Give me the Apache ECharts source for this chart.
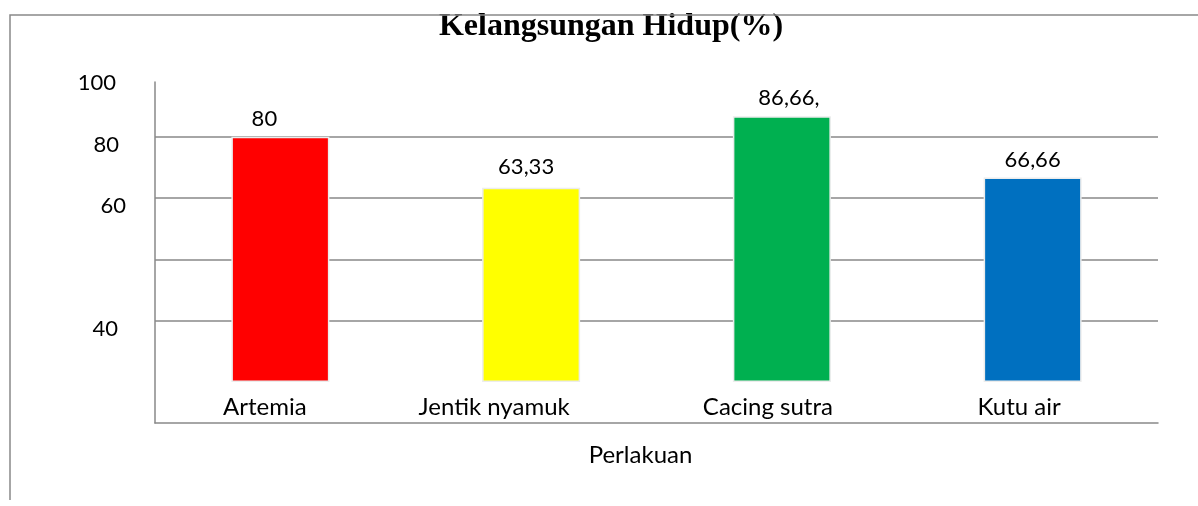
<!DOCTYPE html>
<html>
<head>
<meta charset="utf-8">
<script src="https://cdn.jsdelivr.net/npm/echarts@6/dist/echarts.min.js"></script>
<style>
html,body{margin:0;padding:0;background:#fff;}
#c{width:1198px;height:506px;}
</style>
</head>
<body>
<div id="c"></div>
<script>
// ---- data ----
const titleText = 'Kelangsungan Hidup(%)';
const xAxisName = 'Perlakuan';
const categories = ['Artemia', 'Jentik nyamuk', 'Cacing sutra', 'Kutu air'];
const values = [80, 63.33, 86.66, 66.66];
const valueLabels = ['80', '63,33', '86,66,', '66,66'];
const barColors = ['#FF0000', '#FFFF00', '#00B050', '#0070C0'];
const yTickLabels = ['', '40', '', '60', '80', '100']; // for ticks 0,20,40,60,80,100

// ---- layout / style helpers (not data) ----
const yLabelPad = { '100': 10, '80': 7, '60': 0, '40': 8 };
const catLabelPad = [31, 74, 28, 27];
const valueLabelOffsets = [[-16, 0], [-5, -3], [7, 0], [0, 0]];

const chart = echarts.init(document.getElementById('c'));
const gray = '#898989';
const sans = 'Lato';

const yRich = {};
Object.keys(yLabelPad).forEach(function (k) {
  yRich['p' + k] = { fontFamily: sans, fontSize: 22, color: '#000', padding: [0, yLabelPad[k], 0, 0] };
});
const xRich = {};
catLabelPad.forEach(function (p, i) {
  xRich['c' + i] = { fontFamily: sans, fontSize: 24, color: '#000', padding: [0, p, 0, 0] };
});

chart.setOption({
  animation: false,
  backgroundColor: '#ffffff',
  title: {
    text: titleText,
    left: 606,
    textAlign: 'center',
    top: 6,
    textStyle: { fontFamily: 'Liberation Serif', fontWeight: 'bold', fontSize: 32, color: '#000' }
  },
  graphic: [
    { type: 'polyline', z: 100, shape: { points: [[1198, 15], [10, 15], [10, 500]] },
      style: { stroke: gray, lineWidth: 1.5, fill: null } }
  ],
  grid: [
    { left: 155, right: 40, top: 75.3, bottom: 124 },
    { left: 155, right: 40, top: 82, bottom: 83 }
  ],
  xAxis: [
    {
      type: 'category', gridIndex: 0, data: categories,
      axisLine: { show: false }, axisTick: { show: false },
      axisLabel: {
        margin: 13, fontFamily: sans, fontSize: 24, color: '#000', interval: 0,
        formatter: function (v) { return '{c' + categories.indexOf(v) + '|' + v + '}'; },
        rich: xRich
      }
    },
    {
      type: 'category', gridIndex: 1, data: categories,
      axisLine: { show: true, lineStyle: { color: gray, width: 1.5 } },
      axisTick: { show: false }, axisLabel: { show: false },
      name: xAxisName, nameLocation: 'middle', nameGap: 20,
      nameTextStyle: { fontFamily: sans, fontSize: 24, color: '#000', padding: [0, 32, 0, 0], verticalAlign: 'top' }
    }
  ],
  yAxis: [
    {
      type: 'value', gridIndex: 0, min: 0, max: 100, interval: 20,
      axisLine: { show: false }, axisTick: { show: false },
      splitLine: { show: true, showMinLine: false, showMaxLine: false, lineStyle: { color: gray, width: 1.5 } },
      axisLabel: {
        margin: 29, padding: [16, 0, 0, 0],
        fontFamily: sans, fontSize: 22, color: '#000',
        formatter: function (v) {
          const t = yTickLabels[Math.round(v / 20)];
          return t ? '{p' + t + '|' + t + '}' : '';
        },
        rich: yRich
      }
    },
    {
      type: 'value', gridIndex: 1, min: 0, max: 1,
      axisLine: { show: true, lineStyle: { color: gray, width: 1.5 } },
      axisTick: { show: false }, axisLabel: { show: false }, splitLine: { show: false }
    }
  ],
  series: [
    {
      type: 'bar', xAxisIndex: 0, yAxisIndex: 0,
      barWidth: 98,
      data: values.map(function (v, i) {
        return {
          value: v,
          itemStyle: { color: barColors[i] },
          label: { formatter: valueLabels[i], offset: valueLabelOffsets[i] }
        };
      }),
      itemStyle: { borderColor: '#ececec', borderWidth: 1.5 },
      label: { show: true, position: 'top', distance: 7, fontFamily: sans, fontSize: 22, color: '#000' }
    }
  ]
});
</script>
</body>
</html>
